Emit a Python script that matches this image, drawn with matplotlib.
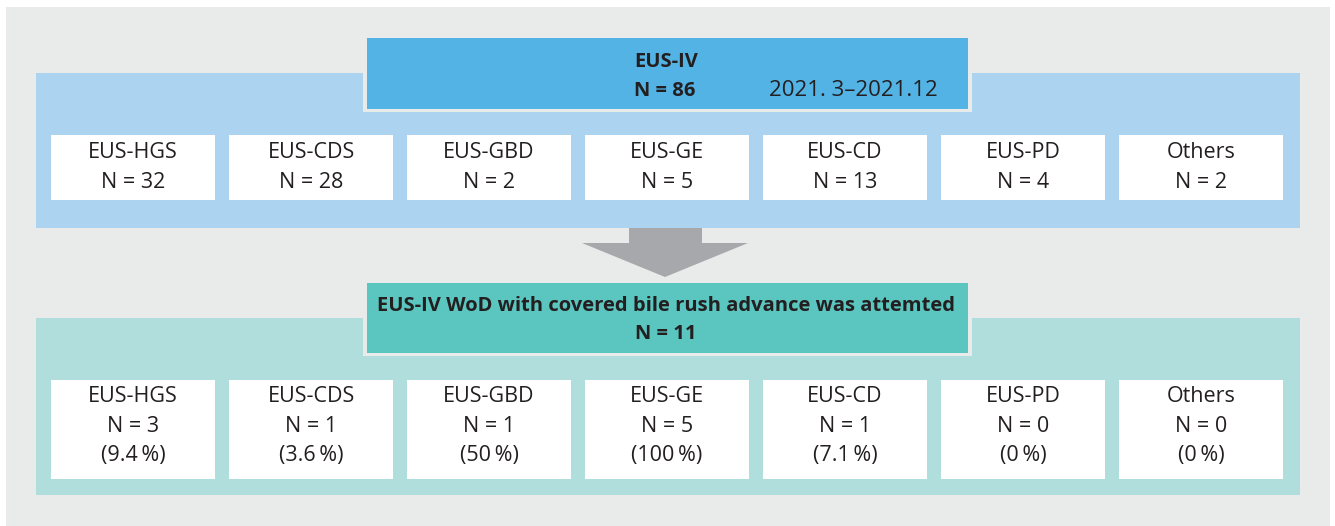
import matplotlib.pyplot as plt
from matplotlib.patches import Rectangle, Polygon

plt.rcParams['font.family'] = ['Open Sans', 'DejaVu Sans']

# data
categories = ['EUS-HGS', 'EUS-CDS', 'EUS-GBD', 'EUS-GE', 'EUS-CD', 'EUS-PD', 'Others']
n_all = [32, 28, 2, 5, 13, 4, 2]
n_wod = [3, 1, 1, 5, 1, 0, 0]
pct_wod = ['9.4', '3.6', '50', '100', '7.1', '0', '0']
top_title = 'EUS-IV'
top_n = 86
period = '2021. 3\u20132021.12'
mid_title = 'EUS-IV WoD with covered bile rush advance was attemted'
mid_n = 11

bg = '#e9ebea'
blue_panel = '#acd3ef'
blue_box = '#53b3e5'
teal_panel = '#b0dedc'
teal_box = '#5bc5bf'
arrow_c = '#a7a8ab'
txt = '#231f20'
fs = 15.5   # regular text
fb = 14.5   # bold text

fig = plt.figure(figsize=(13.35, 5.26), dpi=100)
ax = fig.add_axes([0, 0, 1, 1])
ax.set_xlim(0, 1335)
ax.set_ylim(526, 0)
ax.axis('off')

def rect(x0, y0, x1, y1, color, z=1):
    ax.add_patch(Rectangle((x0, y0), x1 - x0, y1 - y0, facecolor=color,
                           edgecolor='none', zorder=z))

# background
rect(6, 7, 1330, 526, bg, 0)

# upper panel
rect(36, 73, 1300, 228, blue_panel)
rect(363, 35, 972, 112, bg, 2)
rect(367, 38, 968, 109, blue_box, 3)
ax.text(634, 62, top_title, fontsize=fb, fontweight='bold', color=txt,
        ha='left', va='center', zorder=4)
ax.text(634, 91, 'N = %d' % top_n, fontsize=fb, fontweight='bold', color=txt,
        ha='left', va='center', zorder=4)
ax.text(938, 91, period, fontsize=16, color=txt, ha='right', va='center', zorder=4)

x0s = [51 + 178 * i for i in range(len(categories))]
for x, c, n in zip(x0s, categories, n_all):
    rect(x, 135, x + 164, 200, 'white', 2)
    ax.text(x + 82, 152, c, fontsize=fs, color=txt, ha='center', va='center', zorder=4)
    ax.text(x + 82, 182, 'N = %d' % n, fontsize=fs, color=txt, ha='center', va='center', zorder=4)

# arrow
ax.add_patch(Polygon([(629, 228), (702, 228), (702, 243), (748, 243), (665, 277),
                      (582, 243), (629, 243)], closed=True, facecolor=arrow_c,
                     edgecolor='none', zorder=1))

# lower panel
rect(36, 318, 1300, 495, teal_panel)
rect(363, 280, 972, 356, bg, 2)
rect(367, 283, 968, 353, teal_box, 3)
ax.text(666, 306, mid_title, fontsize=fb, fontweight='bold', color=txt,
        ha='center', va='center', zorder=4)
ax.text(666, 334, 'N = %d' % mid_n, fontsize=fb, fontweight='bold', color=txt,
        ha='center', va='center', zorder=4)

for x, c, n, p in zip(x0s, categories, n_wod, pct_wod):
    rect(x, 380, x + 164, 479, 'white', 2)
    ax.text(x + 82, 397, c, fontsize=fs, color=txt, ha='center', va='center', zorder=4)
    ax.text(x + 82, 427, 'N = %d' % n, fontsize=fs, color=txt, ha='center', va='center', zorder=4)
    ax.text(x + 82, 456, '(%s\u2009%%)' % p, fontsize=fs, color=txt, ha='center', va='center', zorder=4)

fig.savefig('out.png', dpi=100)
